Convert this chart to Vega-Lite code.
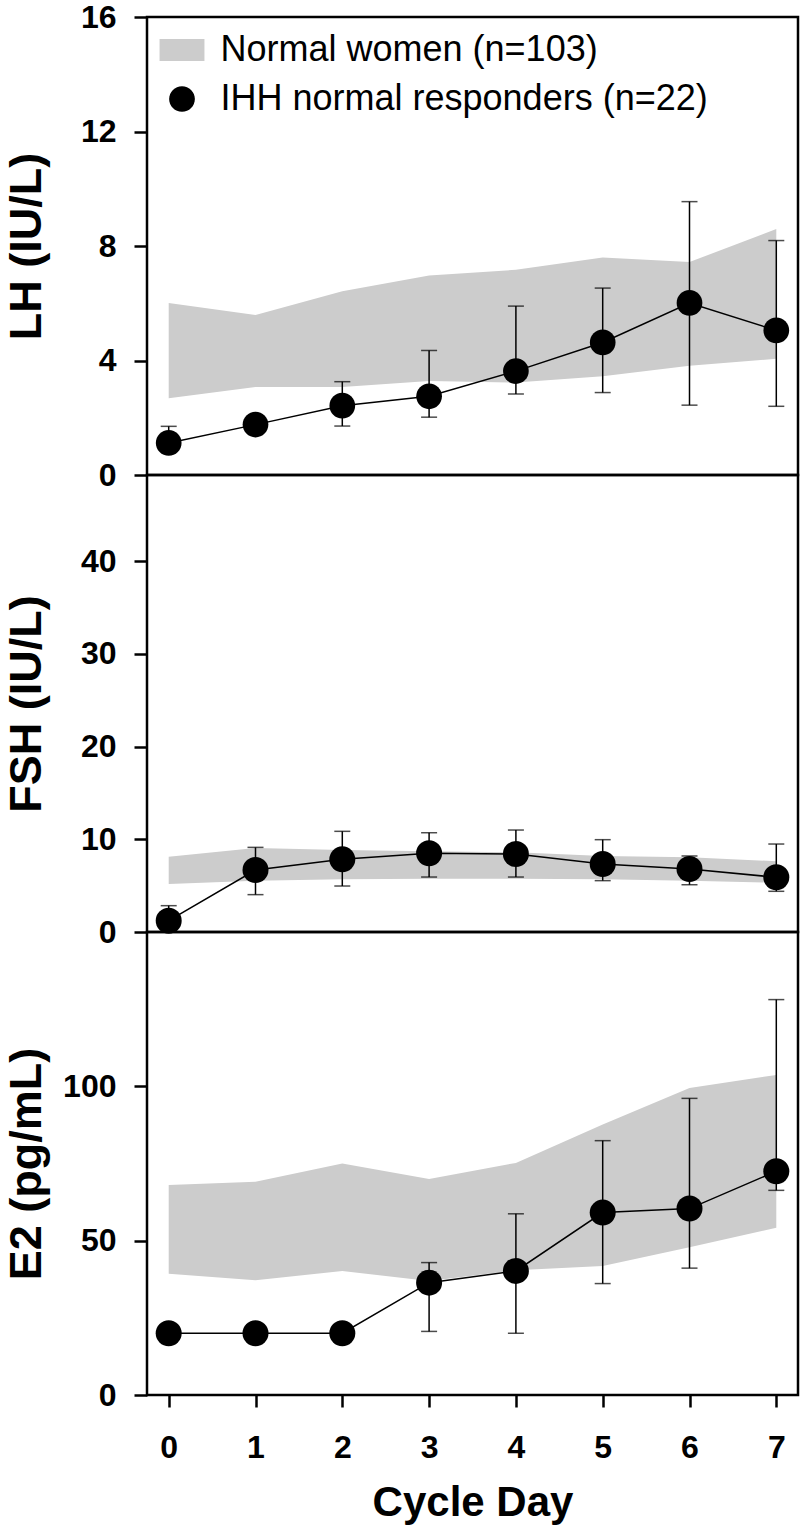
{
  "$schema": "https://vega.github.io/schema/vega-lite/v6.json",
  "background": "white",
  "padding": {"left": 3, "top": -1, "right": 2, "bottom": 5},
  "config": {
    "font": "Liberation Sans",
    "view": {"stroke": "black", "strokeWidth": 2.5},
    "axis": {
      "grid": false, "domain": false,
      "tickColor": "black", "tickWidth": 2.5, "tickSize": 13,
      "labelFont": "Liberation Sans", "labelFontWeight": "bold", "labelFontSize": 32, "labelColor": "black", "labelPadding": 18,
      "titleFont": "Liberation Sans", "titleFontWeight": "bold", "titleFontSize": 45, "titleColor": "black"
    }
  },
  "datasets": {
    "d": [
      {"hormone": "LH", "series": "IHH normal responders (n=22)", "day": 0, "mean": 1.12, "hi": 1.70, "lo": null, "nlo": 2.68, "nhi": 6.01},
      {"hormone": "LH", "series": "IHH normal responders (n=22)", "day": 1, "mean": 1.76, "hi": null, "lo": null, "nlo": 3.07, "nhi": 5.59},
      {"hormone": "LH", "series": "IHH normal responders (n=22)", "day": 2, "mean": 2.42, "hi": 3.26, "lo": 1.71, "nlo": 3.07, "nhi": 6.42},
      {"hormone": "LH", "series": "IHH normal responders (n=22)", "day": 3, "mean": 2.75, "hi": 4.35, "lo": 2.02, "nlo": 3.28, "nhi": 6.97},
      {"hormone": "LH", "series": "IHH normal responders (n=22)", "day": 4, "mean": 3.63, "hi": 5.90, "lo": 2.83, "nlo": 3.23, "nhi": 7.17},
      {"hormone": "LH", "series": "IHH normal responders (n=22)", "day": 5, "mean": 4.63, "hi": 6.53, "lo": 2.88, "nlo": 3.45, "nhi": 7.60},
      {"hormone": "LH", "series": "IHH normal responders (n=22)", "day": 6, "mean": 6.01, "hi": 9.55, "lo": 2.44, "nlo": 3.82, "nhi": 7.44},
      {"hormone": "LH", "series": "IHH normal responders (n=22)", "day": 7, "mean": 5.05, "hi": 8.19, "lo": 2.40, "nlo": 4.06, "nhi": 8.59},
      {"hormone": "FSH", "series": "IHH normal responders (n=22)", "day": 0, "mean": 1.22, "hi": 2.84, "lo": null, "nlo": 5.18, "nhi": 8.13},
      {"hormone": "FSH", "series": "IHH normal responders (n=22)", "day": 1, "mean": 6.69, "hi": 9.13, "lo": 4.03, "nlo": 5.54, "nhi": 9.06},
      {"hormone": "FSH", "series": "IHH normal responders (n=22)", "day": 2, "mean": 7.84, "hi": 10.86, "lo": 4.96, "nlo": 5.68, "nhi": 8.85},
      {"hormone": "FSH", "series": "IHH normal responders (n=22)", "day": 3, "mean": 8.49, "hi": 10.71, "lo": 5.93, "nlo": 5.75, "nhi": 8.70},
      {"hormone": "FSH", "series": "IHH normal responders (n=22)", "day": 4, "mean": 8.41, "hi": 11.0, "lo": 5.93, "nlo": 5.75, "nhi": 8.60},
      {"hormone": "FSH", "series": "IHH normal responders (n=22)", "day": 5, "mean": 7.34, "hi": 9.96, "lo": 5.54, "nlo": 5.68, "nhi": 8.20},
      {"hormone": "FSH", "series": "IHH normal responders (n=22)", "day": 6, "mean": 6.80, "hi": 8.20, "lo": 5.10, "nlo": 5.54, "nhi": 8.06},
      {"hormone": "FSH", "series": "IHH normal responders (n=22)", "day": 7, "mean": 5.90, "hi": 9.49, "lo": 4.39, "nlo": 5.32, "nhi": 7.63},
      {"hormone": "E2", "series": "IHH normal responders (n=22)", "day": 0, "mean": 20.0, "hi": null, "lo": null, "nlo": 39.3, "nhi": 68.0},
      {"hormone": "E2", "series": "IHH normal responders (n=22)", "day": 1, "mean": 20.0, "hi": null, "lo": null, "nlo": 37.2, "nhi": 69.1},
      {"hormone": "E2", "series": "IHH normal responders (n=22)", "day": 2, "mean": 20.0, "hi": null, "lo": null, "nlo": 40.2, "nhi": 75.0},
      {"hormone": "E2", "series": "IHH normal responders (n=22)", "day": 3, "mean": 36.4, "hi": 42.9, "lo": 20.6, "nlo": 36.9, "nhi": 70.0},
      {"hormone": "E2", "series": "IHH normal responders (n=22)", "day": 4, "mean": 40.2, "hi": 58.7, "lo": 20.0, "nlo": 40.4, "nhi": 75.2},
      {"hormone": "E2", "series": "IHH normal responders (n=22)", "day": 5, "mean": 59.1, "hi": 82.4, "lo": 36.1, "nlo": 41.8, "nhi": 87.6},
      {"hormone": "E2", "series": "IHH normal responders (n=22)", "day": 6, "mean": 60.4, "hi": 96.1, "lo": 41.1, "nlo": 47.9, "nhi": 99.5},
      {"hormone": "E2", "series": "IHH normal responders (n=22)", "day": 7, "mean": 72.5, "hi": 128.1, "lo": 66.3, "nlo": 54.2, "nhi": 103.7}
    ]
  },
  "vconcat": [
    {
      "width": 651, "height": 458,
      "data": {"name": "d"},
      "transform": [{"filter": "datum.hormone === 'LH'"}],
      "layer": [
        {"mark": {"type": "area", "color": "#cccccc"},
         "encoding": {
           "x": {"field": "day", "type": "quantitative", "scale": {"domain": [-0.25, 7.25], "nice": false}, "axis": null},
           "y": {"field": "nlo", "type": "quantitative", "scale": {"domain": [0, 16], "nice": false},
                 "axis": {"values": [0, 4, 8, 12, 16], "title": "LH (IU/L)", "titlePadding": 31}},
           "y2": {"field": "nhi"}}},
        {"transform": [{"filter": "datum.hi != null"}],
         "mark": {"type": "rule", "color": "black", "strokeWidth": 1.5},
         "encoding": {"x": {"field": "day", "type": "quantitative"}, "y": {"field": "mean", "type": "quantitative"}, "y2": {"field": "hi"}}},
        {"transform": [{"filter": "datum.lo != null"}],
         "mark": {"type": "rule", "color": "black", "strokeWidth": 1.5},
         "encoding": {"x": {"field": "day", "type": "quantitative"}, "y": {"field": "mean", "type": "quantitative"}, "y2": {"field": "lo"}}},
        {"transform": [{"filter": "datum.hi != null"}],
         "mark": {"type": "tick", "orient": "horizontal", "size": 16, "thickness": 1.5, "color": "black"},
         "encoding": {"x": {"field": "day", "type": "quantitative"}, "y": {"field": "hi", "type": "quantitative"}}},
        {"transform": [{"filter": "datum.lo != null"}],
         "mark": {"type": "tick", "orient": "horizontal", "size": 16, "thickness": 1.5, "color": "black"},
         "encoding": {"x": {"field": "day", "type": "quantitative"}, "y": {"field": "lo", "type": "quantitative"}}},
        {"mark": {"type": "line", "color": "black", "strokeWidth": 1.5},
         "encoding": {"x": {"field": "day", "type": "quantitative"}, "y": {"field": "mean", "type": "quantitative"}}},
        {"mark": {"type": "point", "filled": true, "opacity": 1, "size": 2187, "strokeWidth": 0},
         "encoding": {
           "x": {"field": "day", "type": "quantitative"},
           "y": {"field": "mean", "type": "quantitative"},
           "color": {"field": "series", "type": "nominal",
             "scale": {"domain": ["Normal women (n=103)", "IHH normal responders (n=22)"], "range": ["#cccccc", "#000000"]},
             "legend": {"title": null, "orient": "none", "legendX": 11.5, "legendY": 9.5, "symbolSize": 2187, "labelFontSize": 36, "labelFont": "Liberation Sans", "labelFontWeight": "normal", "labelColor": "black", "labelOffset": 15, "rowPadding": 7, "padding": 0, "symbolStrokeWidth": 0, "labelLimit": 0}},
           "shape": {"field": "series", "type": "nominal",
             "scale": {"domain": ["Normal women (n=103)", "IHH normal responders (n=22)"], "range": ["M-0.96,-0.47L0.96,-0.47L0.96,0.47L-0.96,0.47Z", "M0.55,0A0.55,0.55,0,1,1,-0.55,0A0.55,0.55,0,1,1,0.55,0Z"]},
             "legend": {"title": null, "orient": "none", "legendX": 11.5, "legendY": 9.5, "symbolSize": 2187, "labelFontSize": 36, "labelFont": "Liberation Sans", "labelFontWeight": "normal", "labelColor": "black", "labelOffset": 15, "rowPadding": 7, "padding": 0, "symbolStrokeWidth": 0, "labelLimit": 0}}
         }}
      ]
    },
    {
      "width": 651, "height": 457,
      "data": {"name": "d"},
      "transform": [{"filter": "datum.hormone === 'FSH'"}],
      "layer": [
        {"mark": {"type": "area", "color": "#cccccc"},
         "encoding": {
           "x": {"field": "day", "type": "quantitative", "scale": {"domain": [-0.25, 7.25], "nice": false}, "axis": null},
           "y": {"field": "nlo", "type": "quantitative", "scale": {"domain": [0, 49.3], "nice": false},
                 "axis": {"values": [0, 10, 20, 30, 40], "title": "FSH (IU/L)", "titlePadding": 31}},
           "y2": {"field": "nhi"}}},
        {"transform": [{"filter": "datum.hi != null"}],
         "mark": {"type": "rule", "color": "black", "strokeWidth": 1.5},
         "encoding": {"x": {"field": "day", "type": "quantitative"}, "y": {"field": "mean", "type": "quantitative"}, "y2": {"field": "hi"}}},
        {"transform": [{"filter": "datum.lo != null"}],
         "mark": {"type": "rule", "color": "black", "strokeWidth": 1.5},
         "encoding": {"x": {"field": "day", "type": "quantitative"}, "y": {"field": "mean", "type": "quantitative"}, "y2": {"field": "lo"}}},
        {"transform": [{"filter": "datum.hi != null"}],
         "mark": {"type": "tick", "orient": "horizontal", "size": 16, "thickness": 1.5, "color": "black"},
         "encoding": {"x": {"field": "day", "type": "quantitative"}, "y": {"field": "hi", "type": "quantitative"}}},
        {"transform": [{"filter": "datum.lo != null"}],
         "mark": {"type": "tick", "orient": "horizontal", "size": 16, "thickness": 1.5, "color": "black"},
         "encoding": {"x": {"field": "day", "type": "quantitative"}, "y": {"field": "lo", "type": "quantitative"}}},
        {"mark": {"type": "line", "color": "black", "strokeWidth": 1.5},
         "encoding": {"x": {"field": "day", "type": "quantitative"}, "y": {"field": "mean", "type": "quantitative"}}},
        {"mark": {"type": "point", "filled": true, "opacity": 1, "size": 676, "shape": "circle", "color": "black", "strokeWidth": 0},
         "encoding": {"x": {"field": "day", "type": "quantitative"}, "y": {"field": "mean", "type": "quantitative"}}}
      ]
    },
    {
      "width": 651, "height": 463,
      "data": {"name": "d"},
      "transform": [{"filter": "datum.hormone === 'E2'"}],
      "layer": [
        {"mark": {"type": "area", "color": "#cccccc"},
         "encoding": {
           "x": {"field": "day", "type": "quantitative", "scale": {"domain": [-0.25, 7.25], "nice": false},
                 "axis": {"values": [0, 1, 2, 3, 4, 5, 6, 7], "format": "d", "title": "Cycle Day", "tickSize": 12, "labelPadding": 25, "titlePadding": 19, "titleFontSize": 42}},
           "y": {"field": "nlo", "type": "quantitative", "scale": {"domain": [0, 150], "nice": false},
                 "axis": {"values": [0, 50, 100], "title": "E2 (pg/mL)", "titlePadding": 13}},
           "y2": {"field": "nhi"}}},
        {"transform": [{"filter": "datum.hi != null"}],
         "mark": {"type": "rule", "color": "black", "strokeWidth": 1.5},
         "encoding": {"x": {"field": "day", "type": "quantitative"}, "y": {"field": "mean", "type": "quantitative"}, "y2": {"field": "hi"}}},
        {"transform": [{"filter": "datum.lo != null"}],
         "mark": {"type": "rule", "color": "black", "strokeWidth": 1.5},
         "encoding": {"x": {"field": "day", "type": "quantitative"}, "y": {"field": "mean", "type": "quantitative"}, "y2": {"field": "lo"}}},
        {"transform": [{"filter": "datum.hi != null"}],
         "mark": {"type": "tick", "orient": "horizontal", "size": 16, "thickness": 1.5, "color": "black"},
         "encoding": {"x": {"field": "day", "type": "quantitative"}, "y": {"field": "hi", "type": "quantitative"}}},
        {"transform": [{"filter": "datum.lo != null"}],
         "mark": {"type": "tick", "orient": "horizontal", "size": 16, "thickness": 1.5, "color": "black"},
         "encoding": {"x": {"field": "day", "type": "quantitative"}, "y": {"field": "lo", "type": "quantitative"}}},
        {"mark": {"type": "line", "color": "black", "strokeWidth": 1.5},
         "encoding": {"x": {"field": "day", "type": "quantitative"}, "y": {"field": "mean", "type": "quantitative"}}},
        {"mark": {"type": "point", "filled": true, "opacity": 1, "size": 676, "shape": "circle", "color": "black", "strokeWidth": 0},
         "encoding": {"x": {"field": "day", "type": "quantitative"}, "y": {"field": "mean", "type": "quantitative"}}}
      ]
    }
  ],
  "spacing": 0,
  "bounds": "flush",
  "resolve": {"scale": {"color": "independent", "shape": "independent"}}
}
